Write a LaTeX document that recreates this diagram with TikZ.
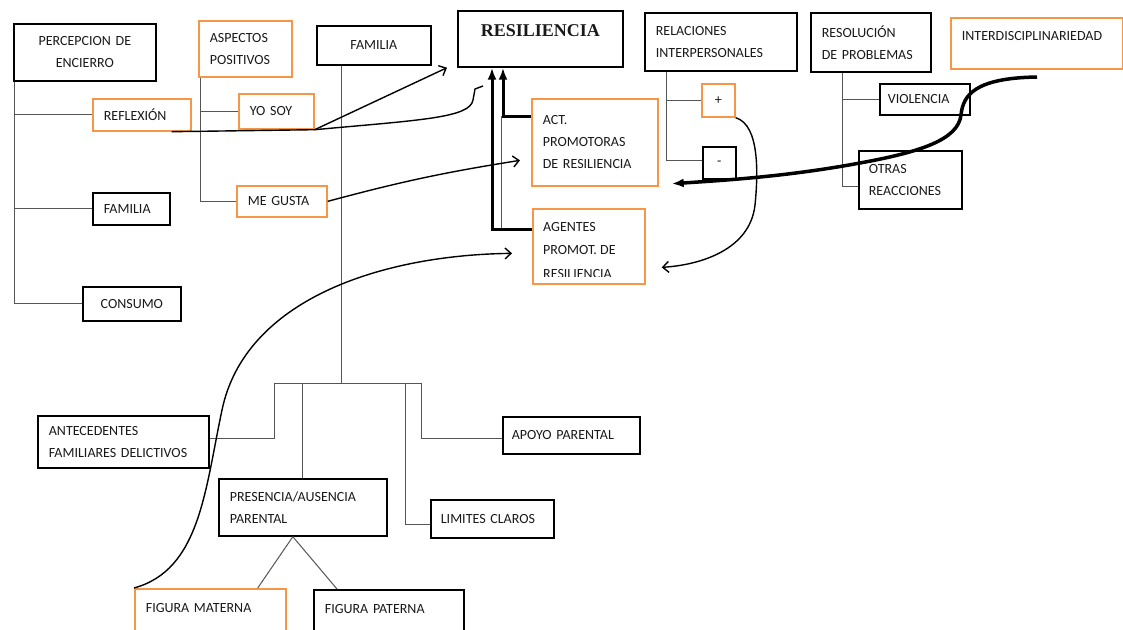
\documentclass[tikz,border=0pt]{standalone}
\usepackage{fontspec}
\setmainfont{Carlito}
\newfontfamily\serifbold{Liberation Serif}
\usetikzlibrary{arrows.meta}
\definecolor{boxorange}{HTML}{F79646}
\definecolor{treegray}{HTML}{555555}

\begin{document}
\begin{tikzpicture}[x=1pt, y=-1pt,
  lbl/.style={font=\fontsize{14}{22}\selectfont, text=black!90},
  blk/.style={lbl, draw=black, line width=1.7pt, rectangle, anchor=north west,
    inner xsep=11pt, inner ysep=0pt, align=left},
  org/.style={blk, draw=boxorange},
  tree/.style={draw=treegray, line width=1pt},
  bold/.style={line width=3pt, -{Latex[length=12pt,width=9pt]}},
  curvy/.style={line width=1.4pt, -{Straight Barb[length=6pt,width=11pt]}}]

  \clip (0,0) rectangle (1123,629);

  % top row
  \node[blk, text width=120pt, align=center, minimum height=57pt] (perc) at (13,23) {PERCEPCION DE\\ENCIERRO};
  \node[org, text width=71pt, minimum height=56pt] (aspect) at (198,20) {ASPECTOS\\POSITIVOS};
  \node[blk, text width=92pt, align=center, minimum height=39pt] (famtop) at (316,25) {FAMILIA};
  \node[blk, text width=143pt, align=center, font=\serifbold\bfseries\fontsize{18}{20}\selectfont,
    inner ysep=14pt, text height=12pt, text depth=16pt] (resil) at (457,10) {RESILIENCIA};
  \node[blk, text width=130pt, minimum height=58pt] (relac) at (644,12) {RELACIONES\\INTERPERSONALES};
  \node[blk, text width=98pt, minimum height=59pt] (resol) at (810,12) {RESOLUCIÓN\\DE PROBLEMAS};
  \node[org, text width=150pt, inner ysep=13pt, text height=10pt, text depth=15pt] (interd) at (950,17) {INTERDISCIPLINARIEDAD};

  % second level
  \node[org, text width=76pt, minimum height=32pt] (reflex) at (92,98) {REFLEXIÓN};
  \node[org, text width=53pt, minimum height=35pt] (yosoy) at (238,93) {YO SOY};
  \node[org, text width=68pt, minimum height=31pt] (megusta) at (236,185) {ME GUSTA};
  \node[blk, text width=55pt, minimum height=32pt] (famleft) at (92,192) {FAMILIA};
  \node[blk, text width=76pt, align=center, minimum height=34pt] (consumo) at (82,286) {CONSUMO};
  \node[org, text width=104pt, minimum height=87pt] (act) at (531,98) {ACT.\\PROMOTORAS\\DE RESILIENCIA};
  \node[org, text width=90pt, minimum height=75pt] (agent) at (532,208) {};
  \begin{scope}
    \clip (agent.north west) rectangle ([yshift=8pt]agent.south east);
    \node[lbl, font=\fontsize{14}{23.5}\selectfont, anchor=north west, align=left, inner sep=0pt] (agenttxt) at (543,222)
      {AGENTES\\PROMOT. DE\\RESILIENCIA};
  \end{scope}
  \node[org, text width=11pt, align=center, minimum height=33pt] (plus) at (701,83) {+};
  \node[blk, text width=11pt, align=center, minimum height=32pt] (minus) at (702,146) {-};
  \node[blk, text width=74pt, inner xsep=8pt, minimum height=31pt] (viol) at (879,83) {VIOLENCIA};
  \node[blk, text width=83pt, inner xsep=10pt, minimum height=58pt] (otras) at (858,150) {OTRAS\\REACCIONES};

  % family tree
  \node[blk, text width=149pt, minimum height=52pt] (antec) at (37,415) {ANTECEDENTES\\FAMILIARES DELICTIVOS};
  \node[blk, text width=119pt, inner xsep=9pt, minimum height=37pt] (apoyo) at (502,416) {APOYO PARENTAL};
  \node[blk, text width=146pt, minimum height=57pt] (presen) at (218,478) {PRESENCIA/AUSENCIA\\PARENTAL};
  \node[blk, text width=103pt, inner xsep=10pt, minimum height=38pt] (limit) at (430,499) {LIMITES CLAROS};
  \node[org, text width=129pt, inner ysep=14pt, text height=10pt, text depth=22pt] (fmat) at (134,588) {FIGURA MATERNA};
  \node[blk, text width=128pt, inner ysep=14pt, text height=10pt, text depth=22pt] (fpat) at (313,589) {FIGURA PATERNA};

  \coordinate (fj) at (341,383);
  \coordinate (hook) at (483,86);
  \coordinate (istart) at (1037,77);

  % tree lines
  \draw[tree] ([xshift=1pt]perc.south west) |- (consumo.west);
  \draw[tree] ([xshift=1pt]perc.south west |- reflex.west) -- (reflex.west);
  \draw[tree] ([xshift=1pt]perc.south west |- famleft.west) -- (famleft.west);
  \draw[tree] ([xshift=2pt]aspect.south west) |- (megusta.west);
  \draw[tree] ([xshift=2pt]aspect.south west |- yosoy.west) -- (yosoy.west);
  \draw[tree] ([xshift=25pt]famtop.south west) -- (fj);
  \draw[tree] ([yshift=3pt]antec.east) -| (274,383) -- (421,383) |- ([yshift=-3pt]apoyo.west);
  \draw[tree] (presen.north) -- (presen.north |- fj);
  \draw[tree] ([yshift=-6pt]limit.west) -| (405,383);
  \draw[tree] ([xshift=-10pt]presen.south) -- ([xshift=-29pt]fmat.north east);
  \draw[tree] ([xshift=-10pt]presen.south) -- ([xshift=24pt]fpat.north west);
  \draw[tree] ([xshift=22pt]relac.south west) |- ([yshift=2pt]minus.west);
  \draw[tree] ([xshift=22pt]relac.south west |- plus.west) -- (plus.west);
  \draw[tree] ([xshift=32pt]resol.south west) |- ([yshift=-7pt]otras.west);
  \draw[tree] ([xshift=32pt]resol.south west |- viol.west) -- (viol.west);

  % into resiliencia
  \draw[tree] ([xshift=-30pt,yshift=-18pt]act.north west) -- ([xshift=-31pt,yshift=-21pt]agent.north west);
  \draw[bold] ([yshift=-21pt]agent.north west) -| ([xshift=35pt]resil.south west);
  \draw[bold] ([yshift=-18pt]act.north west) -| ([xshift=46pt]resil.south west);

  % hand drawn links
  \draw[curvy] ([xshift=-20pt]reflex.south east) -- (yosoy.south east) -- ([xshift=-10pt]resil.south west);
  \draw[line width=1.4pt] (yosoy.south east) .. controls (420,120) and (470,118) .. (473,100) -- (475,89) -- (hook);
  \draw[curvy] (megusta.east) to[bend left=3] ([xshift=-11pt,yshift=-18pt]act.west);
  \draw[curvy] (fmat.north west) .. controls (200,570) and (205,490) .. (222,410)
    .. controls (245,300) and (380,255) .. ([xshift=-20pt,yshift=-7pt]agent.west);
  \draw[curvy] (plus.south east) .. controls (760,125) and (758,175) .. (755,205)
    .. controls (750,250) and (700,265) .. ([xshift=16pt,yshift=-21pt]agent.east);
  \draw[bold, line width=3.5pt] (istart) .. controls (975,78) and (963,95) .. (961,115)
    .. controls (958,140) and (920,152) .. (860,163)
    .. controls (790,176) and (730,180) .. ([xshift=13pt,yshift=3pt]act.south east);
\end{tikzpicture}
\end{document}
